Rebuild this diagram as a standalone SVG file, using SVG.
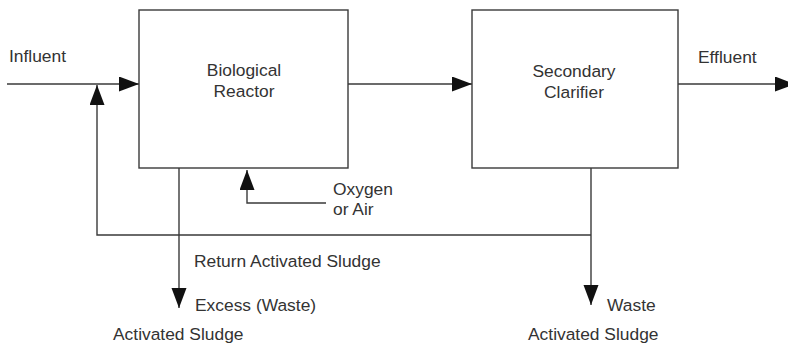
<svg xmlns="http://www.w3.org/2000/svg" width="788" height="347" viewBox="0 0 788 347">
<style>
.box{fill:#fff;stroke:#3a3a3a;stroke-width:1.4}
.ln{fill:none;stroke:#3a3a3a;stroke-width:1.4}
text{font-family:"Liberation Sans",Arial,sans-serif;font-size:17.4px;fill:#333}
.c{text-anchor:middle}
</style>
<defs>
<marker id="ah" markerUnits="userSpaceOnUse" markerWidth="21" markerHeight="16" refX="20" refY="7.5" orient="auto">
<path d="M0,0 L20,7.5 L0,15 z" fill="#111"/>
</marker>
</defs>
<rect width="788" height="347" fill="#fff"/>
<g id="connectors">
<line class="ln" x1="7" y1="84" x2="139" y2="84" marker-end="url(#ah)"/>
<polyline class="ln" points="591,235 97,235 97,85" marker-end="url(#ah)"/>
<line class="ln" x1="348" y1="84" x2="472" y2="84" marker-end="url(#ah)"/>
<line class="ln" x1="678" y1="84" x2="795" y2="84" marker-end="url(#ah)"/>
<line class="ln" x1="591" y1="168" x2="591" y2="305" marker-end="url(#ah)"/>
<line class="ln" x1="179" y1="168" x2="179" y2="308" marker-end="url(#ah)"/>
<polyline class="ln" points="326,203 247,203 247,170" marker-end="url(#ah)"/>
</g>
<g id="reactor">
<rect class="box" x="139" y="10" width="209" height="158"/>
<text class="c" x="244" y="76">Biological</text>
<text class="c" x="244" y="97">Reactor</text>
</g>
<g id="clarifier">
<rect class="box" x="472" y="10" width="206" height="158"/>
<text class="c" x="574" y="77">Secondary</text>
<text class="c" x="574" y="98">Clarifier</text>
</g>
<g id="labels">
<text x="9" y="62">Influent</text>
<text x="698" y="63">Effluent</text>
<text x="333" y="195">Oxygen</text>
<text x="333" y="215">or Air</text>
<text x="194" y="267">Return Activated Sludge</text>
<text x="195" y="311">Excess (Waste)</text>
<text x="113" y="340">Activated Sludge</text>
<text x="607" y="311">Waste</text>
<text x="528" y="340">Activated Sludge</text>
</g>
</svg>
